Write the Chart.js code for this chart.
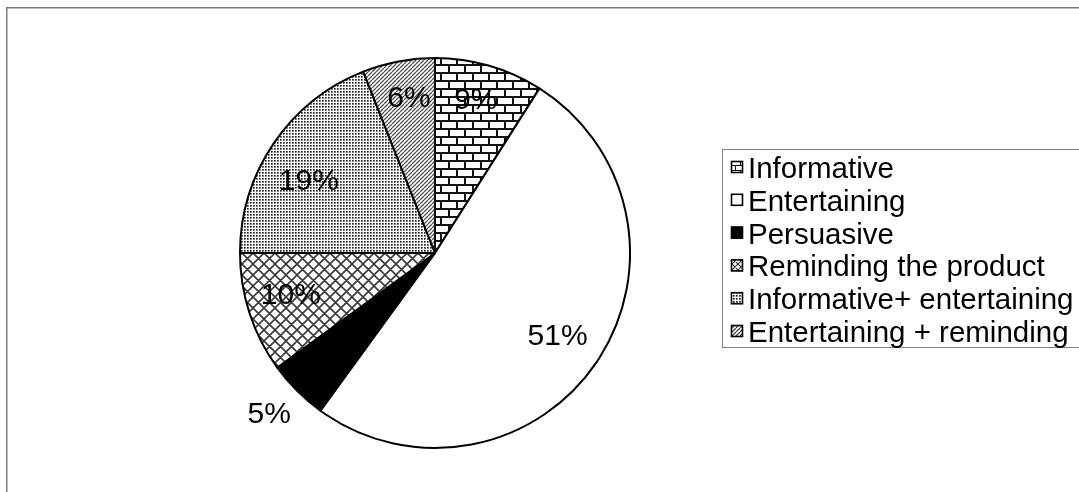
<!DOCTYPE html>
<html>
<head>
<meta charset="utf-8">
<script src="https://cdn.jsdelivr.net/npm/chart.js@4.4.0/dist/chart.umd.min.js"></script>
<style>
  html, body { margin: 0; padding: 0; background: #fff; }
  #wrap { width: 1079px; height: 492px; }
</style>
</head>
<body>
<div id="wrap"><canvas id="c" width="1079" height="492"></canvas></div>
<script>
// Categories and their shares (percent)
const categories = [
  'Informative',
  'Entertaining',
  'Persuasive',
  'Reminding the product',
  'Informative+ entertaining',
  'Entertaining + reminding'
];
const shares = [9, 51, 5, 10, 19, 6];
const percentLabels = shares.map(v => v + '%');

// Where each percentage label sits: fraction of the slice's sweep, and fraction of the radius
const labelSweep = [0.457, 0.497, 0.56, 0.57, 0.444, 0.565];
const labelRadius = [0.82, 0.755, 1.18, 0.767, 0.75, 0.815];

const FONT = '"Liberation Sans", Arial, Helvetica, sans-serif';

// ---- fill patterns -------------------------------------------------------
function tile(w, h, draw) {
  const c = document.createElement('canvas');
  c.width = w; c.height = h;
  const g = c.getContext('2d');
  g.fillStyle = '#fff';
  g.fillRect(0, 0, w, h);
  draw(g, w, h);
  return c;
}
function brickTile(s, t) {
  return tile(2 * s, 2 * s, (g, w) => {
    g.fillStyle = '#111';
    g.fillRect(0, 0, w, t);
    g.fillRect(0, s, w, t);
    g.fillRect(0, 0, t, s);
    g.fillRect(s, s, t, s);
  });
}
function diamondTile(s, lw, col) {
  return tile(s, s, (g, w, h) => {
    g.strokeStyle = col;
    g.lineWidth = lw;
    g.beginPath();
    for (const k of [-1, 0, 1]) {
      g.moveTo(k * w, 0); g.lineTo(k * w + w, h);
      g.moveTo(k * w + w, 0); g.lineTo(k * w, h);
    }
    g.stroke();
  });
}
function dotTile() {
  return tile(3, 3, (g) => {
    g.fillStyle = '#222'; g.fillRect(1, 1, 1, 1);
    g.fillStyle = '#666'; g.fillRect(2, 1, 1, 1); g.fillRect(1, 2, 1, 1);
    g.fillStyle = '#999'; g.fillRect(2, 2, 1, 1);
  });
}
function slashTile(s, lw, col) {
  return tile(s, s, (g, w, h) => {
    g.strokeStyle = col;
    g.lineWidth = lw;
    g.beginPath();
    for (const k of [-1, 0, 1]) {
      g.moveTo(k * w, h); g.lineTo(k * w + w, 0);
    }
    g.stroke();
  });
}

const ctx = document.getElementById('c').getContext('2d');
const pat = (t) => ctx.createPattern(t, 'repeat');

const sliceFills = [
  pat(brickTile(8, 2)),
  '#ffffff',
  '#000000',
  pat(diamondTile(11, 1.6, '#3a3a3a')),
  pat(dotTile()),
  pat(slashTile(4, 1.3, '#555'))
];
const swatchFills = [
  pat(brickTile(5, 1)),
  '#ffffff',
  '#000000',
  pat(diamondTile(6, 1.2, '#333')),
  pat(dotTile()),
  pat(slashTile(4, 1.3, '#444'))
];

// ---- plugins ---------------------------------------------------------------
const framePlugin = {
  id: 'frame',
  beforeDraw(chart) {
    const g = chart.ctx;
    g.save();
    g.fillStyle = '#fff';
    g.fillRect(0, 0, chart.width, chart.height);
    g.fillStyle = '#7a7a7a';
    g.fillRect(6, 7, chart.width - 6, 1.5);
    g.fillRect(6, 7, 1.5, chart.height - 7);
    g.restore();
  }
};

const percentPlugin = {
  id: 'percentLabels',
  afterDatasetsDraw(chart) {
    const g = chart.ctx;
    const arcs = chart.getDatasetMeta(0).data;
    g.save();
    g.font = '30px ' + FONT;
    g.fillStyle = '#000';
    g.textAlign = 'center';
    g.textBaseline = 'alphabetic';
    arcs.forEach((arc, i) => {
      const a = arc.startAngle + labelSweep[i] * (arc.endAngle - arc.startAngle);
      const r = arc.outerRadius * labelRadius[i];
      const x = arc.x + Math.cos(a) * r;
      const y = arc.y + Math.sin(a) * r;
      g.fillText(percentLabels[i], x, y + 30 * 0.358);
    });
    g.restore();
  }
};

const legendPlugin = {
  id: 'boxLegend',
  afterDraw(chart) {
    const g = chart.ctx;
    g.save();
    // legend frame (runs off the right edge)
    g.strokeStyle = '#808080';
    g.lineWidth = 1;
    g.strokeRect(722.5, 149.5, 420, 198);
    g.font = '29.5px ' + FONT;
    g.textAlign = 'left';
    g.textBaseline = 'alphabetic';
    categories.forEach((name, i) => {
      const base = 178 + i * 32.8;
      const sy = base - 17;
      g.fillStyle = swatchFills[i];
      g.fillRect(731, sy, 12, 12);
      g.strokeStyle = '#000';
      g.lineWidth = 1.6;
      g.strokeRect(731.5, sy + 0.5, 11, 11);
      g.fillStyle = '#000';
      g.fillText(name, 748, base);
    });
    g.restore();
  }
};

new Chart(ctx, {
  type: 'pie',
  data: {
    labels: categories,
    datasets: [{
      data: shares,
      backgroundColor: sliceFills,
      borderColor: '#000',
      borderWidth: 2,
      radius: 195,
      hoverOffset: 0
    }]
  },
  options: {
    responsive: false,
    animation: false,
    events: [],
    layout: { padding: { left: 30, right: 239, top: 30, bottom: 16 } },
    plugins: {
      legend: { display: false },
      tooltip: { enabled: false }
    }
  },
  plugins: [framePlugin, percentPlugin, legendPlugin]
});
</script>
</body>
</html>
